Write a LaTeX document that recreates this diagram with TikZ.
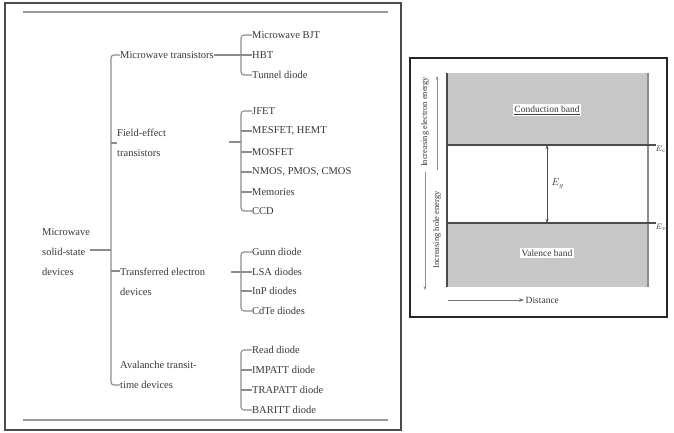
\documentclass[tikz,border=0pt]{standalone}
\usepackage{fontspec}
\setmainfont{Liberation Serif}
\usetikzlibrary{arrows.meta}
\definecolor{txt}{gray}{0.22}
\definecolor{ln}{gray}{0.55}
\definecolor{band}{gray}{0.78}
\begin{document}
\begin{tikzpicture}[x=1pt,y=-1pt,
  lbl/.style={anchor=west,inner sep=0pt,text=txt,font=\fontsize{10.5}{20}\selectfont,align=left},
  sml/.style={inner sep=1.5pt,text=txt,font=\fontsize{8.5}{10}\selectfont},
  br/.style={draw=ln,line width=1.1pt,rounded corners=3pt},
  frameA/.style={draw=black!70,line width=2.6pt},
  frameB/.style={draw=black!85,line width=2.6pt},
  rule/.style={draw=black!40,line width=1.6pt},
  edge/.style={draw=black!70,line width=1.4pt}]
\useasboundingbox (0,0) rectangle (674,433);
\fill[white] (0,0) rectangle (674,433);
% ---------- left panel ----------
\draw[frameA] (5,3) rectangle (401,430);
\draw[rule] (23,12) -- (388,12);
\draw[rule] (23,420) -- (388,420);
\node[lbl] (root) at (42,252) {Microwave\\solid-state\\devices};
\node[lbl] (mt)  at (120,55) {Microwave transistors};
\node[lbl] (fet) at (117,143) {Field-effect\\transistors};
\node[lbl] (ted) at (120,282) {Transferred electron\\devices};
\node[lbl] (att) at (120,375) {Avalanche transit-\\time devices};
\coordinate (s1) at (111,55);
\coordinate (s4) at (111,385);
\coordinate (sr) at (111,250);
\coordinate (sf) at (111,143);
\coordinate (st) at (111,271);
\draw[br] (mt.west) -- (s1) -- (s4) -- (att.west |- s4);
\draw[br] (root.east |- sr) -- (sr);
\draw[br] (sf) -- (fet.west);
\draw[br] (st) -- (ted.west |- st);
% group 1
\node[lbl] (g11) at (252,35) {Microwave BJT};
\node[lbl] (g12) at (252,55) {HBT};
\node[lbl] (g13) at (252,75) {Tunnel diode};
\draw[br] (g11.west) -- (241,35) -- (241,75) -- (g13.west);
\draw[br] (mt.east) -- (g12.west);
% group 2
\node[lbl] (g21) at (252,111) {JFET};
\node[lbl] (g22) at (252,131) {MESFET, HEMT};
\node[lbl] (g23) at (252,152) {MOSFET};
\node[lbl] (g24) at (252,172) {NMOS, PMOS, CMOS};
\node[lbl] (g25) at (252,192) {Memories};
\node[lbl] (g26) at (252,211) {CCD};
\coordinate (p2) at (229,142);
\draw[br] (g21.west) -- (241,111) -- (241,211) -- (g26.west);
\foreach \n in {g22,g23,g24,g25} \draw[br] (241,0 |- \n.west) -- (\n.west);
\draw[br] (p2) -- (241,142);
% group 3
\node[lbl] (g31) at (252,252) {Gunn diode};
\node[lbl] (g32) at (252,272) {LSA diodes};
\node[lbl] (g33) at (252,291) {InP diodes};
\node[lbl] (g34) at (252,311) {CdTe diodes};
\coordinate (p3) at (231,272);
\draw[br] (g31.west) -- (241,252) -- (241,311) -- (g34.west);
\foreach \n in {g32,g33} \draw[br] (241,0 |- \n.west) -- (\n.west);
\draw[br] (p3) -- (241,272);
% group 4
\node[lbl] (g41) at (252,350) {Read diode};
\node[lbl] (g42) at (252,370) {IMPATT diode};
\node[lbl] (g43) at (252,390) {TRAPATT diode};
\node[lbl] (g44) at (252,410) {BARITT diode};
\draw[br] (g41.west) -- (241,350) -- (241,410) -- (g44.west);
\foreach \n in {g42,g43} \draw[br] (241,0 |- \n.west) -- (\n.west);
% ---------- right panel ----------
\draw[frameB] (410,58) rectangle (667,317);
\fill[band] (447,73) rectangle (648,145);
\fill[band] (447,223) rectangle (648,287);
\draw[draw=black!45,line width=1.2pt] (648,73) -- (648,287);
\draw[edge] (447,73) -- (447,287);
\draw[edge] (447,145) -- (656,145);
\draw[edge] (447,223) -- (656,223);
\node[sml,fill=white,font=\fontsize{9.5}{11}\selectfont] (cb) at (547,110) {\underline{Conduction band}};
\node[sml,fill=white,font=\fontsize{9.5}{11}\selectfont] (vb) at (547,253) {Valence band};
\coordinate (ec) at (547,145);
\coordinate (ev) at (547,223);
\draw[draw=black!70,line width=0.8pt,{Stealth[length=4pt]}-{Stealth[length=4pt]}] (ec) -- (ev);
\node[sml,anchor=west,font=\fontsize{10}{12}\selectfont] (eg) at (550,184) {$E_g$};
\node[sml,anchor=west,inner sep=0.5pt] (lec) at (655,149) {$E_c$};
\node[sml,anchor=west,inner sep=0.5pt] (lev) at (655,227) {$E_v$};
% axes
\node[sml,rotate=90,inner sep=0pt] (ee) at (425,122) {Increasing electron energy};
\node[sml,rotate=90,inner sep=0pt] (he) at (437,230) {Increasing hole energy};
\coordinate (a1s) at (437,170);
\coordinate (a1e) at (437,76);
\coordinate (a2s) at (425,172);
\coordinate (a2e) at (425,290);
\draw[draw=black!45,line width=0.8pt,-{Stealth[length=4pt]}] (a1s) -- (a1e);
\draw[draw=black!45,line width=0.8pt,-{Stealth[length=4pt]}] (a2s) -- (a2e);
\node[sml,anchor=west,font=\fontsize{9.5}{11}\selectfont] (dist) at (524,300) {Distance};
\coordinate (d0) at (448,300);
\draw[draw=black!55,line width=0.8pt,-{Stealth[length=5pt]}] (d0) -- (dist.west);
\end{tikzpicture}
\end{document}
